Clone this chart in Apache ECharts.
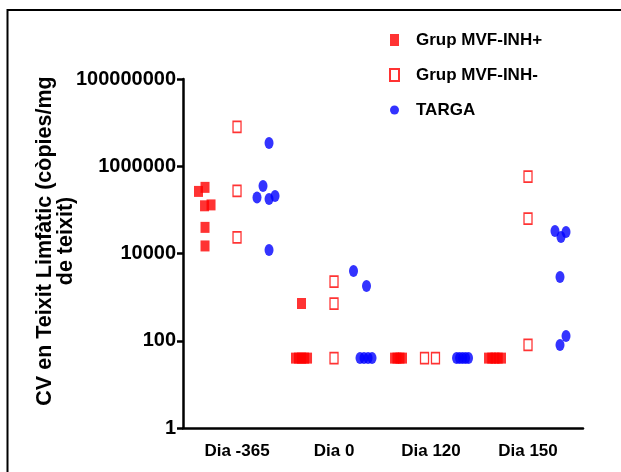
<!DOCTYPE html>
<html>
<head>
<meta charset="utf-8">
<script src="https://cdn.jsdelivr.net/npm/echarts@6/dist/echarts.min.js"></script>
<style>
  html, body { margin: 0; padding: 0; background: #fff; }
  #chart { width: 621px; height: 472px; }
</style>
</head>
<body>
<div id="chart"></div>
<script>
// Viral load per time point, one list per category
const categories = ['Dia -365', 'Dia 0', 'Dia 120', 'Dia 150'];

const inhPos = [
  [265000, 328000, 124000, 130000, 39700, 14900],
  [714, 40, 40, 40, 40, 40],
  [40, 40, 40, 40],
  [40, 40, 40, 40, 40]
];
const inhNeg = [
  [7940000, 271000, 23300],
  [2280, 714, 40],
  [40, 40],
  [582000, 63400, 80]
];
const targa = [
  [3410000, 352000, 192000, 177000, 208000, 12000],
  [3970, 1800, 40, 40, 40, 40],
  [40, 40, 40, 40, 40],
  [32800, 23900, 31100, 2890, 128, 80]
];

// Horizontal scatter spread within each category (fraction of category step)
const inhPosSpread = [
  [-0.397, -0.330, -0.335, -0.268, -0.330, -0.330],
  [-0.335, -0.397, -0.366, -0.335, -0.304, -0.273],
  [-0.376, -0.351, -0.320, -0.294],
  [-0.407, -0.374, -0.340, -0.307, -0.273]
];
const inhNegSpread = [
  [0, 0, 0],
  [0, 0, 0],
  [-0.067, 0.046],
  [0, 0, 0]
];
const targaSpread = [
  [0.330, 0.268, 0.206, 0.330, 0.392, 0.330],
  [0.201, 0.335, 0.268, 0.309, 0.351, 0.392],
  [0.263, 0.294, 0.325, 0.356, 0.387],
  [0.278, 0.340, 0.392, 0.330, 0.392, 0.330]
];

const yTicks = [1, 100, 10000, 1000000, 100000000];
const seriesNames = ['Grup MVF-INH+', 'Grup MVF-INH-', 'TARGA'];

function points(values, spread) {
  const out = [];
  values.forEach((list, ci) => {
    list.forEach((v, i) => out.push([ci + 1 + spread[ci][i], v]));
  });
  return out;
}

const font = '"Liberation Sans", Arial, sans-serif';

const chart = echarts.init(document.getElementById('chart'), null, { renderer: 'canvas' });

chart.setOption({
  animation: false,
  backgroundColor: '#fff',
  grid: { left: 183, right: 38, top: 79, bottom: 44, containLabel: false },
  legend: {
    orient: 'vertical',
    left: 384,
    top: 25,
    itemWidth: 9,
    itemHeight: 12,
    itemGap: 15,
    data: seriesNames,
    textStyle: {
      fontFamily: font, fontWeight: 'bold', fontSize: 17, color: '#000',
      lineHeight: 20, padding: [0, 0, 0, 12]
    }
  },
  xAxis: {
    type: 'value',
    min: 0.443,
    max: 4.567,
    splitLine: { show: false },
    axisLine: { show: true, onZero: false, lineStyle: { color: '#000', width: 2.5 } },
    axisTick: { show: false },
    axisLabel: {
      customValues: [1, 2, 3, 4],
      formatter: v => categories[Math.round(v) - 1] || '',
      margin: 15,
      fontFamily: font, fontWeight: 'bold', fontSize: 17, color: '#000'
    }
  },
  yAxis: {
    type: 'log',
    logBase: 100,
    min: 1,
    max: 100000000,
    splitLine: { show: false },
    axisLine: { show: true, lineStyle: { color: '#000', width: 2.5 } },
    axisTick: { show: true, length: 6, customValues: yTicks, lineStyle: { color: '#000', width: 2.5 } },
    axisLabel: {
      customValues: yTicks,
      formatter: v => String(Math.round(v)),
      margin: 7,
      fontFamily: font, fontWeight: 'bold', fontSize: 20, color: '#000'
    }
  },
  graphic: [
    {
      type: 'rect',
      shape: { x: 7.5, y: 10, width: 700, height: 600 },
      style: { fill: 'none', stroke: '#000', lineWidth: 2 },
      silent: true
    },
    {
      type: 'text',
      x: 56,
      y: 241,
      rotation: Math.PI / 2,
      style: {
        text: 'CV en Teixit Limfàtic (còpies/mg\nde teixit)',
        font: 'bold 21.5px ' + font,
        fill: '#000',
        align: 'center',
        verticalAlign: 'middle',
        lineHeight: 21
      },
      silent: true
    }
  ],
  series: [
    {
      name: seriesNames[0],
      type: 'scatter',
      symbol: 'rect',
      symbolSize: [9, 11],
      itemStyle: { color: '#ff0000' },
      data: points(inhPos, inhPosSpread)
    },
    {
      name: seriesNames[1],
      type: 'scatter',
      symbol: 'rect',
      symbolSize: [8, 11],
      itemStyle: { color: '#ffffff', borderColor: '#ff0000', borderWidth: 1.5 },
      data: points(inhNeg, inhNegSpread)
    },
    {
      name: seriesNames[2],
      type: 'scatter',
      symbol: 'circle',
      symbolSize: [9, 12],
      itemStyle: { color: '#0000ff' },
      data: points(targa, targaSpread)
    }
  ]
});
</script>
</body>
</html>
